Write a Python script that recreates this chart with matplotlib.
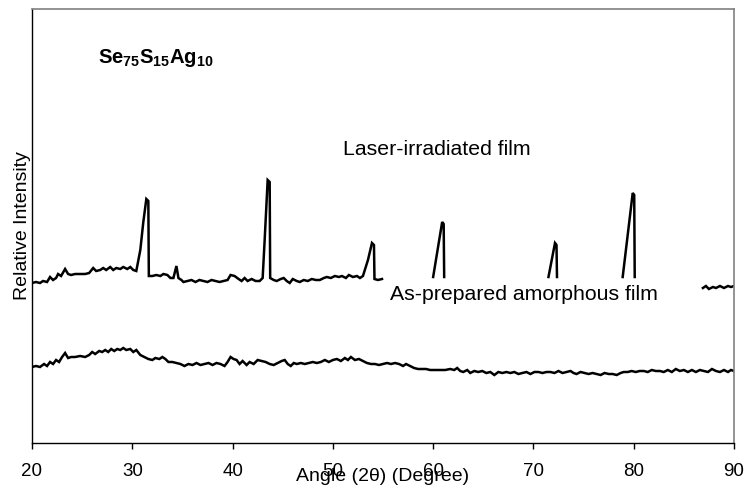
import numpy as np
import matplotlib
matplotlib.use("Agg")
import matplotlib.pyplot as plt

plt.rcParams['font.family'] = ['Liberation Sans', 'DejaVu Sans']
plt.rcParams['mathtext.fontset'] = 'custom'
plt.rcParams['mathtext.rm'] = 'Liberation Sans'
plt.rcParams['mathtext.bf'] = 'Liberation Sans:bold'

# ---- Data (angle in degrees 2theta, relative intensity in arbitrary units) ----
# Laser-irradiated film, visible segments
laser_x1 = [20.0, 20.4, 20.8, 21.1, 21.5, 21.8, 22.1, 22.4, 22.6, 22.9,
            23.3, 23.6, 23.9, 24.3, 24.8, 25.3, 25.7, 26.1, 26.4, 26.8,
            27.1, 27.4, 27.8, 28.1, 28.4, 28.8, 29.1, 29.5, 29.8, 30.1,
            30.4, 30.8, 31.1, 31.4, 31.6, 31.65, 32.0, 32.4, 32.8, 33.1,
            33.5, 33.8, 34.1, 34.4, 34.6, 34.9, 35.1, 35.5, 35.9, 36.3,
            36.7, 37.1, 37.5, 37.9, 38.3, 38.7, 39.1, 39.5, 39.8, 40.2,
            40.6, 40.9, 41.2, 41.5, 41.9, 42.3, 42.7, 43.0, 43.2, 43.5,
            43.7, 43.75, 44.1, 44.4, 44.8, 45.1, 45.4, 45.7, 46.0, 46.4,
            46.7, 47.1, 47.5, 47.9, 48.3, 48.7, 49.1, 49.4, 49.8, 50.2,
            50.6, 50.9, 51.3, 51.6, 52.0, 52.4, 52.7, 53.0, 53.5, 53.9,
            54.1, 54.15, 54.5, 54.9]
laser_y1 = [160, 161, 160, 162, 161, 166, 163, 165, 169, 167,
            174, 169, 168, 169, 169, 169, 170, 175, 172, 173,
            175, 173, 176, 173, 175, 174, 176, 174, 176, 173,
            172, 193, 221, 244, 242, 167, 167, 168, 167, 169,
            168, 165, 165, 177, 165, 163, 161, 162, 163, 161,
            163, 162, 161, 163, 162, 161, 162, 163, 168, 167,
            164, 162, 165, 162, 164, 162, 162, 165, 203, 263,
            261, 165, 163, 162, 164, 165, 162, 160, 164, 162,
            161, 163, 162, 164, 163, 163, 165, 166, 165, 167,
            166, 167, 165, 168, 166, 167, 165, 167, 183, 200,
            198, 164, 163, 164]
laser_x2 = [60.0, 60.9, 61.05, 61.1]
laser_y2 = [166, 221, 219, 166]
laser_x3 = [71.5, 72.15, 72.3, 72.35]
laser_y3 = [166, 200, 198, 166]
laser_x4 = [78.9, 79.9, 80.05, 80.1]
laser_y4 = [166, 250, 248, 166]
laser_x5 = [86.9, 87.2, 87.5, 87.9, 88.2, 88.6, 89.0, 89.4, 89.7, 90.0]
laser_y5 = [155, 157, 154, 156, 155, 157, 155, 157, 156, 157]

# As-prepared amorphous film
amor_x = [20.0, 20.4, 20.8, 21.2, 21.5, 21.8, 22.1, 22.4, 22.7, 23.0,
          23.3, 23.6, 23.9, 24.3, 24.8, 25.3, 25.7, 26.0, 26.3, 26.7,
          27.0, 27.3, 27.6, 27.9, 28.2, 28.5, 28.8, 29.1, 29.4, 29.8,
          30.1, 30.4, 30.8, 31.2, 31.6, 32.0, 32.3, 32.7, 33.0, 33.3,
          33.6, 34.0, 34.4, 34.8, 35.2, 35.6, 36.0, 36.4, 36.8, 37.2,
          37.6, 38.0, 38.4, 38.8, 39.2, 39.5, 39.8, 40.1, 40.4, 40.7,
          41.0, 41.4, 41.7, 42.1, 42.5, 42.9, 43.3, 43.7, 44.1, 44.5,
          44.9, 45.2, 45.5, 45.8, 46.1, 46.4, 46.8, 47.2, 47.6, 48.0,
          48.4, 48.8, 49.2, 49.6, 50.0, 50.4, 50.8, 51.2, 51.5, 51.8,
          52.2, 52.6, 53.0, 53.4, 53.8, 54.2, 54.6, 55.0, 55.4, 55.8,
          56.2, 56.6, 57.0, 57.3, 57.7, 58.1, 58.5, 58.9, 59.3, 59.7,
          60.2, 60.7, 61.2, 61.7, 62.1, 62.4, 62.7, 63.0, 63.4, 63.7,
          64.1, 64.5, 64.9, 65.3, 65.7, 66.1, 66.5, 66.9, 67.3, 67.7,
          68.1, 68.5, 68.9, 69.3, 69.7, 70.1, 70.5, 70.9, 71.3, 71.7,
          72.1, 72.5, 72.9, 73.3, 73.7, 74.0, 74.3, 74.7, 75.1, 75.5,
          75.9, 76.3, 76.7, 77.1, 77.5, 77.9, 78.3, 78.7, 79.0, 79.4,
          79.8, 80.2, 80.6, 81.0, 81.4, 81.8, 82.2, 82.6, 83.0, 83.4,
          83.8, 84.2, 84.6, 85.0, 85.4, 85.8, 86.2, 86.6, 87.0, 87.4,
          87.8, 88.2, 88.6, 89.0, 89.4, 89.7, 90.0]
amor_y = [76, 77, 76, 79, 77, 81, 79, 83, 81, 86,
          90, 85, 86, 86, 87, 86, 88, 91, 89, 92,
          91, 93, 91, 94, 92, 94, 93, 95, 93, 94,
          91, 93, 88, 86, 84, 83, 85, 84, 86, 84,
          81, 81, 80, 79, 77, 79, 78, 80, 78, 79,
          80, 78, 80, 79, 77, 81, 86, 84, 83, 79,
          82, 78, 81, 79, 83, 82, 81, 79, 78, 80,
          82, 83, 79, 77, 80, 79, 80, 79, 80, 81,
          80, 81, 83, 81, 83, 84, 82, 85, 83, 86,
          83, 84, 82, 80, 79, 79, 78, 79, 80, 79,
          80, 79, 77, 79, 77, 75, 74, 74, 74, 73,
          73, 73, 73, 74, 73, 75, 72, 71, 73, 70,
          72, 71, 72, 70, 71, 68, 71, 70, 71, 70,
          71, 69, 70, 71, 69, 71, 71, 70, 71, 71,
          70, 72, 70, 71, 72, 70, 69, 71, 70, 69,
          70, 69, 68, 70, 69, 69, 68, 70, 71, 71,
          72, 71, 72, 72, 71, 73, 72, 72, 71, 73,
          71, 74, 72, 73, 71, 73, 71, 73, 72, 71,
          74, 72, 71, 73, 71, 73, 72]

x_ticks = [20, 30, 40, 50, 60, 70, 80, 90]

# ---- Figure ----
fig = plt.figure(figsize=(7.45, 4.86), dpi=100)
ax = fig.add_axes([32 / 745, 43 / 486, 702 / 745, 434 / 486])

lw = 1.8
for xs, ys in [(laser_x1, laser_y1), (laser_x2, laser_y2), (laser_x3, laser_y3),
               (laser_x4, laser_y4), (laser_x5, laser_y5), (amor_x, amor_y)]:
    ax.plot(xs, ys, color='black', lw=lw, solid_joinstyle='miter')

ax.set_xlim(20, 90)
ax.set_ylim(0, 434)
ax.set_xticks(x_ticks)
ax.set_xticklabels([str(t) for t in x_ticks])
ax.set_yticks([])
ax.tick_params(axis='x', direction='out', length=4.5, width=1, pad=10,
               labelsize=13.5, colors='black')

for s in ['left', 'bottom']:
    ax.spines[s].set_color('black')
    ax.spines[s].set_linewidth(1.0)
for s in ['top', 'right']:
    ax.spines[s].set_color('#808080')
    ax.spines[s].set_linewidth(1.2)

ax.set_xlabel('Angle (2θ) (Degree)', fontsize=14, va='center')
ax.xaxis.set_label_coords(0.5, -0.077)
ax.set_ylabel('Relative Intensity', fontsize=14, va='center')
ax.yaxis.set_label_coords(-0.0135, 0.5)

ax.text(26.6, 380, r'$\mathbf{Se_{75}S_{15}Ag_{10}}$', fontsize=14.6,
        ha='left', va='baseline')
ax.text(51.0, 288, 'Laser-irradiated film', fontsize=15.3,
        ha='left', va='baseline')
ax.text(55.7, 143, 'As-prepared amorphous film', fontsize=15.3,
        ha='left', va='baseline')

fig.savefig('out.png', dpi=100)
